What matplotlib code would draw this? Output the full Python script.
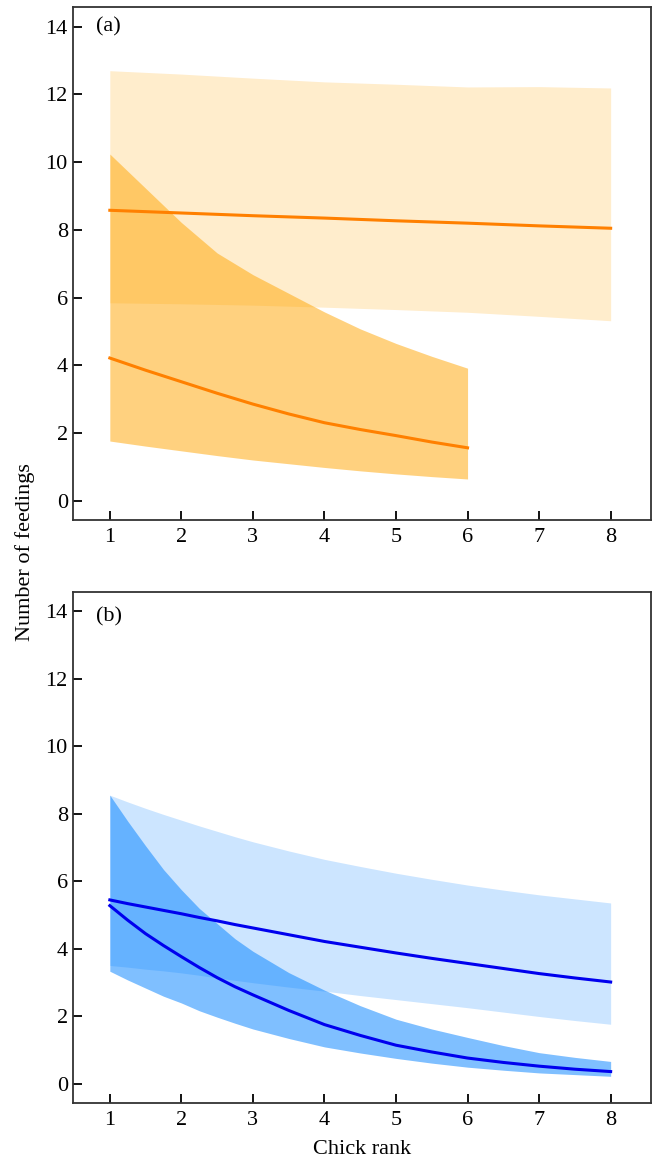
import numpy as np
import matplotlib
matplotlib.use("Agg")
import matplotlib.pyplot as plt

plt.rcParams["font.family"] = ["Liberation Serif", "DejaVu Serif"]

FS = 16

# panel (a): ranks and values
rank_a_wide = [1, 2, 3, 4, 5, 6, 7, 8]
a_wide_hi = [12.70, 12.60, 12.48, 12.37, 12.30, 12.22, 12.23, 12.19]
a_wide_lo = [5.85, 5.82, 5.78, 5.72, 5.65, 5.57, 5.45, 5.32]
a_wide_mid = [8.58, 8.50, 8.42, 8.35, 8.27, 8.20, 8.12, 8.05]

rank_a_steep = [1, 1.5, 2, 2.5, 3, 3.5, 4, 4.5, 5, 5.5, 6]
a_steep_hi = [10.24, 9.23, 8.22, 7.32, 6.68, 6.13, 5.58, 5.08, 4.65, 4.27, 3.92]
a_steep_lo = [1.77, 1.62, 1.48, 1.34, 1.21, 1.10, 0.99, 0.89, 0.80, 0.72, 0.65]
a_steep_mid = [4.22, 3.86, 3.52, 3.18, 2.86, 2.57, 2.31, 2.11, 1.93, 1.74, 1.57]

# panel (b)
rank_b = [1, 1.25, 1.5, 1.75, 2, 2.25, 2.5, 2.75, 3, 3.5, 4, 4.5, 5, 5.5,
          6, 6.5, 7, 7.5, 8]
b_wide_hi = [8.55, 8.35, 8.16, 7.98, 7.81, 7.64, 7.48, 7.32, 7.17, 6.90, 6.65,
             6.44, 6.24, 6.06, 5.89, 5.74, 5.60, 5.48, 5.36]
b_wide_lo = [3.51, 3.46, 3.40, 3.35, 3.29, 3.22, 3.14, 3.07, 3.00, 2.87, 2.75,
             2.62, 2.50, 2.38, 2.26, 2.13, 2.00, 1.88, 1.77]
b_wide_mid = [5.45, 5.34, 5.24, 5.14, 5.04, 4.93, 4.83, 4.72, 4.62, 4.42, 4.22,
              4.05, 3.88, 3.72, 3.57, 3.42, 3.27, 3.14, 3.02]

b_steep_hi = [8.55, 7.78, 7.05, 6.35, 5.75, 5.20, 4.75, 4.30, 3.93, 3.30, 2.78,
              2.32, 1.92, 1.63, 1.38, 1.14, 0.93, 0.79, 0.67]
b_steep_lo = [3.34, 3.08, 2.84, 2.60, 2.40, 2.17, 1.98, 1.80, 1.63, 1.35, 1.10,
              0.92, 0.76, 0.62, 0.50, 0.41, 0.33, 0.28, 0.23]
b_steep_mid = [5.28, 4.85, 4.45, 4.10, 3.77, 3.45, 3.15, 2.88, 2.64, 2.18, 1.76,
               1.44, 1.15, 0.95, 0.77, 0.64, 0.53, 0.44, 0.37]

ORANGE = (1.0, 0.647, 0.0)
BLUE = (0.0, 0.5, 1.0)
ORANGE_LINE = "#ff8000"
BLUE_LINE = "#0000ee"
LW = 2.2

fig = plt.figure(figsize=(6.53, 11.63), dpi=100)
ax_a = fig.add_axes([0.1123, 0.5529, 0.8842, 0.4408])
ax_b = fig.add_axes([0.1123, 0.0516, 0.8842, 0.4396])

# (a)
ax_a.fill_between(rank_a_wide, a_wide_lo, a_wide_hi, color=ORANGE, alpha=0.2, lw=0)
ax_a.fill_between(rank_a_steep, a_steep_lo, a_steep_hi, color=ORANGE, alpha=0.5, lw=0)
ax_a.plot(rank_a_wide, a_wide_mid, color=ORANGE_LINE, lw=LW)
ax_a.plot(rank_a_steep, a_steep_mid, color=ORANGE_LINE, lw=LW)

# (b)
ax_b.fill_between(rank_b, b_wide_lo, b_wide_hi, color=BLUE, alpha=0.2, lw=0)
ax_b.fill_between(rank_b, b_steep_lo, b_steep_hi, color=BLUE, alpha=0.5, lw=0)
ax_b.plot(rank_b, b_wide_mid, color=BLUE_LINE, lw=LW)
ax_b.plot(rank_b, b_steep_mid, color=BLUE_LINE, lw=LW)

for ax, lab, ly in [(ax_a, "(a)", 0.962), (ax_b, "(b)", 0.950)]:
    ax.set_xlim(0.49, 8.56)
    ax.set_ylim(-0.56, 14.57)
    ax.set_xticks(range(1, 9))
    ax.set_yticks(range(0, 15, 2))
    ax.tick_params(direction="in", length=6.5, width=1.3, labelsize=FS,
                   color="black")
    ax.tick_params(axis="x", pad=6)
    ax.tick_params(axis="y", pad=4)
    for s in ax.spines.values():
        s.set_linewidth(1.3)
        s.set_color("#333333")
    ax.text(0.04, ly, lab, transform=ax.transAxes, fontsize=FS,
            ha="left", va="center")

fig.text(0.038, 1 - 552 / 1163, "Number of feedings", rotation=90,
         fontsize=FS, ha="center", va="center")
fig.text((73.3 + 650.7) / 2 / 653, 1 - 1150 / 1163, "Chick rank",
         fontsize=FS, ha="center", va="center")

fig.savefig("out.png", dpi=100)
